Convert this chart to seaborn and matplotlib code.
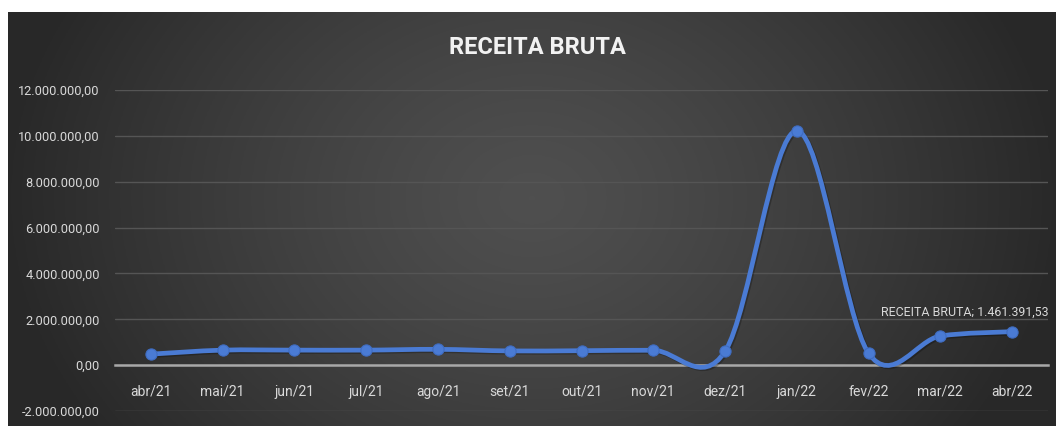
import numpy as np
import pandas as pd
import matplotlib
matplotlib.use("Agg")
import matplotlib.pyplot as plt
from matplotlib.path import Path
from matplotlib.patches import PathPatch
from matplotlib.ticker import FuncFormatter
import matplotlib.patheffects as pe
import seaborn as sns

# data
months = ["abr/21", "mai/21", "jun/21", "jul/21", "ago/21", "set/21", "out/21",
          "nov/21", "dez/21", "jan/22", "fev/22", "mar/22", "abr/22"]
receita = [480000, 655000, 655000, 655000, 690000, 620000, 630000,
           650000, 600000, 10220000, 520000, 1270000, 1461391.53]
y_ticks = [-2000000, 0, 2000000, 4000000, 6000000, 8000000, 10000000, 12000000]

sns.set_theme(style="dark")
plt.rcParams["font.family"] = ["Roboto", "DejaVu Sans"]

df = pd.DataFrame({"mes": months, "valor": receita})
df["pos"] = np.arange(len(df))

fig = plt.figure(figsize=(10.56, 4.26), dpi=100)
fig.patch.set_facecolor("white")

# dark gradient background like the excel chart area
bg = fig.add_axes([8 / 1056, 0, 1 - 8 / 1056, 414 / 426])
gx, gy = np.meshgrid(np.linspace(-1, 1, 400), np.linspace(-1, 1, 200))
r = np.sqrt(gx ** 2 + ((gy + 0.1) / 2.0) ** 2)
shade = 0.31 - 0.15 * np.clip(r, 0, 1) ** 1.3
bg.imshow(np.dstack([shade] * 3), aspect="auto", extent=[0, 1, 0, 1])
bg.set_axis_off()

ax = fig.add_axes([115 / 1056, 15 / 426, 933 / 1056, 321 / 426])
ax.set_facecolor("none")

# excel style smoothed line (catmull-rom bezier through the points)
pts = df[["pos", "valor"]].to_numpy(dtype=float)
n = len(pts)
verts = [pts[0]]
codes = [Path.MOVETO]
for i in range(n - 1):
    p0 = pts[max(i - 1, 0)]
    p1 = pts[i]
    p2 = pts[i + 1]
    p3 = pts[min(i + 2, n - 1)]
    verts += [p1 + (p2 - p0) / 6, p2 - (p3 - p1) / 6, p2]
    codes += [Path.CURVE4] * 3
curve = PathPatch(Path(verts, codes), facecolor="none", edgecolor="#4a7bd4",
                  lw=3.4, capstyle="round", joinstyle="round", zorder=3)
curve.set_path_effects([pe.SimpleLineShadow(offset=(1, -1), shadow_color="black", alpha=0.25),
                        pe.Normal()])
ax.add_patch(curve)

sns.scatterplot(data=df, x="pos", y="valor", ax=ax, s=65, color="#4a7bd4",
                edgecolor="#3f6cc0", linewidth=0.8, zorder=4, legend=False)

ax.set_xlim(-0.5, n - 0.5)
ax.set_ylim(-2000000, 12000000)
ax.set_yticks(y_ticks)
ax.yaxis.set_major_formatter(FuncFormatter(
    lambda v, p: f"{v:,.2f}".replace(",", "X").replace(".", ",").replace("X", ".")))
ax.set_xticks(df["pos"])
ax.set_xticklabels(months)
ax.set_xlabel("")
ax.set_ylabel("")

ax.grid(axis="y", color="#555555", lw=1.0)
ax.grid(axis="x", visible=False)
for s in ["top", "right", "left"]:
    ax.spines[s].set_visible(False)
ax.spines["bottom"].set_position(("data", 0))
ax.spines["bottom"].set_color("#a8a8a8")
ax.spines["bottom"].set_linewidth(1.8)
ax.spines["bottom"].set_zorder(2)

ax.tick_params(axis="y", length=0, pad=11, labelsize=9.2, labelcolor="#d9d9d9")
ax.tick_params(axis="x", length=0, pad=14, labelsize=10, labelcolor="#d9d9d9")

# data label on the last point
ax.text(10.18, 2310000, "RECEITA BRUTA; 1.461.391,53", fontsize=8.9,
        color="#d9d9d9", ha="left", va="center", clip_on=False)

fig.text(537 / 1056, 1 - 48 / 426, "RECEITA BRUTA", fontsize=17, fontweight="bold",
         color="#f2f2f2", ha="center", va="center")

fig.savefig("out.png", dpi=100, facecolor=fig.get_facecolor())
